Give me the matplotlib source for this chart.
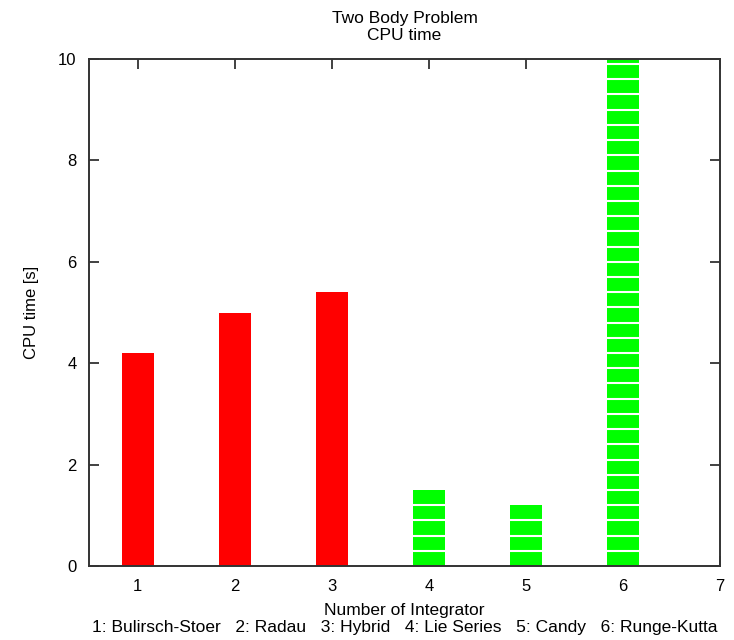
import matplotlib

matplotlib.use("Agg")
import matplotlib.pyplot as plt

plt.rcParams["font.family"] = ["Liberation Sans", "DejaVu Sans"]

# CPU time per integrator (two body problem)
integrators = [1, 2, 3, 4, 5, 6]
names = ["Bulirsch-Stoer", "Radau", "Hybrid", "Lie Series", "Candy", "Runge-Kutta"]
cpu_time = [4.2, 5.0, 5.4, 1.5, 1.2, 10.0]
colors = ["#ff0000", "#ff0000", "#ff0000", "#00ff00", "#00ff00", "#00ff00"]
striped = [False, False, False, True, True, True]
stripe_step = 0.3
bar_width = 0.33

fig = plt.figure(figsize=(7.34, 6.4), dpi=100)
ax = fig.add_axes([0.1213, 0.1156, 0.981 - 0.1213, 0.9078 - 0.1156])

ax.bar(integrators, cpu_time, width=bar_width, color=colors, linewidth=0, zorder=3)

# white separators on the striped (green) bars
for x, h, s in zip(integrators, cpu_time, striped):
    if not s:
        continue
    y = stripe_step
    while y < h - 1e-6:
        ax.hlines(y, x - bar_width / 2, x + bar_width / 2, color="white",
                  linewidth=1.5, zorder=4)
        y += stripe_step

ax.set_xlim(0.5, 7)
ax.set_ylim(0, 10)
ax.set_xticks(range(1, 8))
ax.set_yticks(range(0, 11, 2))
ax.tick_params(direction="in", length=7, width=1.3, color="#333333",
               top=True, right=True, labelsize=12, pad=9)
for sp in ax.spines.values():
    sp.set_linewidth(1.4)
    sp.set_color("#333333")
    sp.set_zorder(5)

legend_line = "   ".join(f"{i}: {n}" for i, n in zip(integrators, names))
ax.set_xlabel("Number of Integrator\n" + legend_line, fontsize=12.5, labelpad=7,
              linespacing=1.15)
ax.set_ylabel("CPU time [s]", fontsize=12, labelpad=14)
ax.set_title("Two Body Problem\nCPU time", fontsize=12.5, pad=14, linespacing=1.15)

fig.savefig("out.png", dpi=100)
